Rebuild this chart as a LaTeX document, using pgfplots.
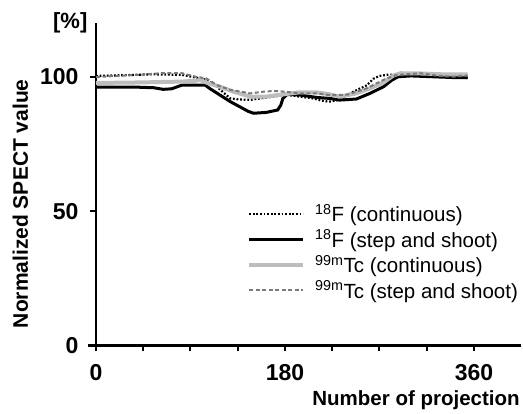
\documentclass[border=0pt]{standalone}
\usepackage{fontspec}
\setmainfont{Liberation Sans}
\usepackage{pgfplots}
\pgfplotsset{compat=1.18}
\definecolor{lgray}{HTML}{BDBDBD}
\definecolor{dgray}{HTML}{7A7A7A}
\begin{document}
\begin{tikzpicture}
\path[use as bounding box] (0,0) rectangle (523pt,414pt);
\begin{axis}[
  at={(96pt,68.5pt)}, anchor=origin,
  scale only axis, width=433.6pt, height=322.2pt,
  xmin=-8, xmax=405, ymin=0, ymax=120,
  axis x line=bottom, axis y line=middle,
  hide obscured x ticks=false, hide obscured y ticks=false,
  axis line style={-, line width=2.4pt, black},
  xtick={0,45,90,135,180,225,270,315,360},
  xticklabels={0,,,,180,,,,360},
  ytick={0,50,100},
  tick align=outside, major tick length=6pt,
  tick style={line width=2pt, black},
  /pgf/number format/assume math mode=true,
  tick label style={font=\fontsize{23}{25}\selectfont\bfseries},
  xticklabel style={anchor=north, yshift=-9pt},
  yticklabel style={anchor=east, xshift=-8pt},
  yticklabel pos=left,
  xlabel={Number of projection},
  xlabel style={at={(axis description cs:1,0)}, anchor=base east, yshift=-60pt, xshift=2pt, font=\fontsize{20.5}{22}\selectfont\bfseries},
  ylabel={Normalized SPECT value},
  ylabel style={at={(axis description cs:-0.155,0.44)}, anchor=center, rotate=90, font=\fontsize{21}{23}\selectfont\bfseries},
  legend style={draw=none, fill=none, at={(axis description cs:0.3676,0.445)}, anchor=north west,
    font=\fontsize{20.5}{22}\selectfont, row sep=2.5pt, inner sep=0pt,
    /tikz/every odd column/.append style={column sep=8pt}},
  legend cell align=left,
  legend image code/.code={\draw[#1] (0pt,0pt) -- (54pt,0pt);},
  clip=false,
]
\addplot[black, line width=2.2pt, dash pattern=on 1.8pt off 1.8pt] coordinates {
(0,100.4) (20,100.6) (54,101) (82,100.8) (95,99.8) (105,99) (115,96.5) (122,94) (128,92) (137,91.6) (147,91.5) (156,92) (169,92.7) (181,93.4) (194,92.7) (207,92) (215,91.2) (222,90.8) (232,91.5) (245,94.5) (258,96.9) (264,99.3) (270,100.4) (277,100.8) (300,100.8) (320,100.5) (340,100) (354,99.6)
};
\addlegendentry{\textsuperscript{18}F (continuous)}
\addplot[black, line width=3pt] coordinates {
(0,96.2) (20,96.2) (40,96.2) (55,96.0) (64,95.4) (72,95.6) (82,97.0) (99,97.0) (104,97.0) (108,95.8) (118,93.3) (128,90.8) (137,88.9) (145,87.2) (150,86.5) (162,86.8) (173,87.7) (176,89.5) (178,92) (182,93.5) (194,93.3) (210,92.4) (223,92) (232,91.4) (248,91.8) (261,93.9) (274,96.4) (282,98.9) (288,100.1) (300,100.4) (320,100.1) (340,99.8) (354,99.8)
};
\addlegendentry{\textsuperscript{18}F (step and shoot)}
\addplot[lgray, line width=4pt] coordinates {
(0,97.8) (30,97.9) (60,98.1) (82,98.3) (95,98.6) (99,98.9) (108,97.5) (118,96.4) (131,94.5) (147,92.7) (162,92.7) (178,93.5) (194,94.3) (210,94.3) (223,93.5) (232,92.7) (248,93.9) (261,95.8) (274,98) (283,100.5) (290,101.4) (310,101.3) (330,101) (354,101)
};
\addlegendentry{\textsuperscript{99m}Tc (continuous)}
\addplot[dgray, line width=2pt, dash pattern=on 4pt off 2.5pt] coordinates {
(0,100) (20,100.4) (40,100.8) (62,101.4) (82,101.4) (95,100.1) (105,99.5) (115,97) (128,95.2) (147,93.9) (159,94.5) (169,94.8) (181,94.5) (194,93.9) (210,93.9) (223,93.2) (239,93.4) (248,94.5) (258,95.8) (267,97.6) (276,99.3) (286,100.7) (296,101) (309,101.4) (325,100.5) (340,100.1) (354,100.6)
};
\addlegendentry{\textsuperscript{99m}Tc (step and shoot)}
\node[anchor=center, font=\fontsize{22}{24}\selectfont\bfseries] at (axis description cs:-0.04,1.0) {[\%]};
\end{axis}
\end{tikzpicture}
\end{document}
